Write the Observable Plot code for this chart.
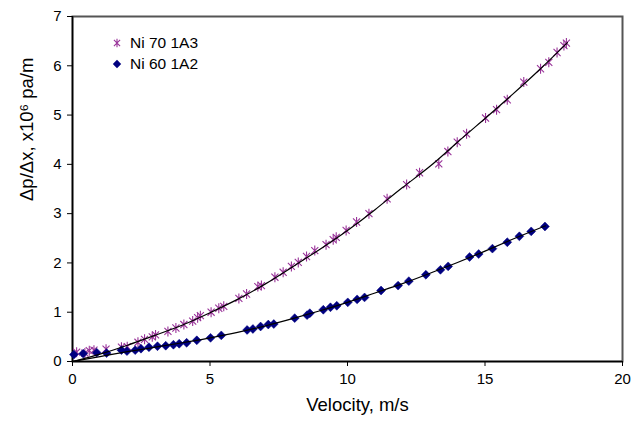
<!DOCTYPE html>
<html>
<head>
<meta charset="utf-8">
<script src="https://cdn.jsdelivr.net/npm/d3@7"></script>
<script src="https://cdn.jsdelivr.net/npm/@observablehq/plot@0.6"></script>
<style>
  html, body { margin: 0; padding: 0; background: #fff; }
  #wrap { position: relative; width: 640px; height: 424px; font-family: "Liberation Sans", Arial, sans-serif; }
  #legend { position: absolute; left: 111px; top: 32px; font-size: 15.5px; color: #000; line-height: 21px; }
  #legend div { display: flex; align-items: center; }
  #legend svg { margin-right: 7px; }
</style>
</head>
<body>
<div id="wrap">
  <div id="chart"></div>
  <div id="legend"></div>
</div>
<script>
// Series: Ni 70 1A3 (stars)
const ni70_v = [0.15, 0.45, 0.61, 0.78, 1.22, 1.78, 1.99, 2.38, 2.62, 2.90, 3.02, 3.47, 3.76, 4.05, 4.37, 4.55, 4.65, 5.04, 5.32, 5.50, 6.05, 6.33, 6.74, 6.87, 7.36, 7.66, 7.96, 8.21, 8.51, 8.81, 9.22, 9.48, 9.59, 9.95, 10.33, 10.78, 11.44, 12.15, 12.62, 13.32, 13.65, 13.99, 14.33, 15.02, 15.42, 15.81, 16.41, 17.02, 17.32, 17.62, 17.87, 17.96];
const ni70_y = [0.19, 0.17, 0.22, 0.23, 0.25, 0.29, 0.30, 0.39, 0.45, 0.50, 0.54, 0.61, 0.68, 0.75, 0.82, 0.89, 0.93, 1.00, 1.08, 1.12, 1.28, 1.37, 1.52, 1.54, 1.71, 1.81, 1.93, 2.01, 2.13, 2.25, 2.37, 2.47, 2.52, 2.66, 2.83, 3.00, 3.30, 3.59, 3.83, 4.01, 4.26, 4.45, 4.62, 4.94, 5.11, 5.31, 5.67, 5.94, 6.07, 6.27, 6.41, 6.46];

// Series: Ni 60 1A2 (diamonds)
const ni60_v = [0.05, 0.39, 0.88, 1.24, 1.78, 1.98, 2.28, 2.49, 2.78, 3.09, 3.39, 3.67, 3.88, 4.15, 4.52, 5.02, 5.41, 6.35, 6.56, 6.84, 7.12, 7.32, 8.08, 8.53, 8.63, 9.12, 9.38, 9.61, 10.01, 10.35, 10.62, 11.22, 11.84, 12.23, 12.85, 13.38, 13.66, 14.44, 14.77, 15.27, 15.81, 16.25, 16.68, 17.18];
const ni60_y = [0.14, 0.16, 0.18, 0.17, 0.23, 0.21, 0.23, 0.26, 0.29, 0.31, 0.32, 0.34, 0.36, 0.38, 0.43, 0.48, 0.53, 0.64, 0.66, 0.71, 0.75, 0.76, 0.88, 0.94, 0.98, 1.05, 1.10, 1.13, 1.20, 1.26, 1.30, 1.44, 1.54, 1.63, 1.76, 1.86, 1.93, 2.12, 2.18, 2.29, 2.42, 2.54, 2.64, 2.74];

// Trend lines
const fit70_v = [0, 1, 2, 3, 4, 5, 6, 7, 8, 9, 10, 11, 12, 13, 14, 15, 16, 17, 18];
const fit70_y = [0, 0.15, 0.33, 0.53, 0.74, 0.99, 1.26, 1.57, 1.92, 2.28, 2.66, 3.08, 3.53, 3.96, 4.45, 4.93, 5.42, 5.93, 6.47];
const fit60_v = [0, 1, 2, 3, 4, 5, 6, 7, 8, 9, 10, 11, 12, 13, 14, 15, 16, 17, 17.2];
const fit60_y = [0, 0.10, 0.20, 0.29, 0.38, 0.48, 0.59, 0.72, 0.87, 1.03, 1.20, 1.39, 1.58, 1.79, 2.01, 2.24, 2.48, 2.71, 2.75];

// Axis ticks and titles
const xTicks = [0, 5, 10, 15, 20];
const yTicks = [0, 1, 2, 3, 4, 5, 6, 7];
const xTitle = "Velocity, m/s";
const yTitle = "Δp/Δx, x10⁶ pa/m";

const seriesNames = ["Ni 70 1A3", "Ni 60 1A2"];
const colors = ["#993399", "#000080"];

// Excel-style star marker: an "x" crossed by a vertical bar
const star = {
  draw(context, size) {
    const r = Math.sqrt(size / Math.PI);
    const d = r * Math.SQRT1_2;
    context.moveTo(0, -r); context.lineTo(0, r);
    context.moveTo(-d, -d); context.lineTo(d, d);
    context.moveTo(-d, d); context.lineTo(d, -d);
  }
};

const pts70 = ni70_v.map((v, i) => ({v, y: ni70_y[i]}));
const pts60 = ni60_v.map((v, i) => ({v, y: ni60_y[i]}));
const fit70 = fit70_v.map((v, i) => ({v, y: fit70_y[i]}));
const fit60 = fit60_v.map((v, i) => ({v, y: fit60_y[i]}));

const chart = Plot.plot({
  width: 640,
  height: 424,
  marginLeft: 72,
  marginRight: 18,
  marginTop: 16,
  marginBottom: 63,
  style: { fontFamily: "'Liberation Sans', Arial, sans-serif", fontSize: "15px", color: "#000", background: "#fff" },
  x: { domain: [0, 20] },
  y: { domain: [0, 7] },
  marks: [
    Plot.frame({ stroke: "#555", strokeWidth: 2 }),
    Plot.axisX({ ticks: xTicks, tickSize: 5, tickPadding: 7, tickFormat: d => d, label: null, fontSize: 15, stroke: "#000" }),
    Plot.axisY({ ticks: yTicks, tickSize: 5, tickPadding: 6, tickFormat: d => d, label: null, fontSize: 15, stroke: "#000" }),
    Plot.text([xTitle], { frameAnchor: "bottom", text: d => d, dy: 49, dx: 10, fontSize: 18.5, fill: "#000" }),
    Plot.text([yTitle], { frameAnchor: "left", text: d => d, rotate: -90, dx: -45, dy: 12, fontSize: 18.5, fill: "#000" }),
    Plot.ruleX([0], { stroke: "#000", strokeWidth: 1.5 }),
    Plot.ruleY([0], { stroke: "#000", strokeWidth: 1.5 }),
    Plot.dot(pts70, { x: "v", y: "y", symbol: star, r: 5, stroke: colors[0], strokeWidth: 1.1 }),
    Plot.dot(pts60, { x: "v", y: "y", symbol: "diamond2", r: 4, fill: colors[1], stroke: colors[1], strokeWidth: 0.5 }),
    Plot.line(fit70, { x: "v", y: "y", curve: "natural", stroke: "#000", strokeWidth: 1.2 }),
    Plot.line(fit60, { x: "v", y: "y", curve: "natural", stroke: "#000", strokeWidth: 1.2 })
  ]
});
document.getElementById("chart").appendChild(chart);

// Legend
const legend = document.getElementById("legend");
const syms = [star, d3.symbolDiamond2];
seriesNames.forEach((name, i) => {
  const row = document.createElement("div");
  const s = d3.create("svg").attr("width", 12).attr("height", 12);
  const path = s.append("path")
    .attr("transform", "translate(6,6)")
    .attr("d", d3.symbol(syms[i], i === 0 ? 60 : 45)());
  if (i === 0) path.attr("fill", "none").attr("stroke", colors[0]).attr("stroke-width", 1.1);
  else path.attr("fill", colors[1]);
  row.appendChild(s.node());
  const t = document.createElement("span");
  t.textContent = name;
  row.appendChild(t);
  legend.appendChild(row);
});
</script>
</body>
</html>
